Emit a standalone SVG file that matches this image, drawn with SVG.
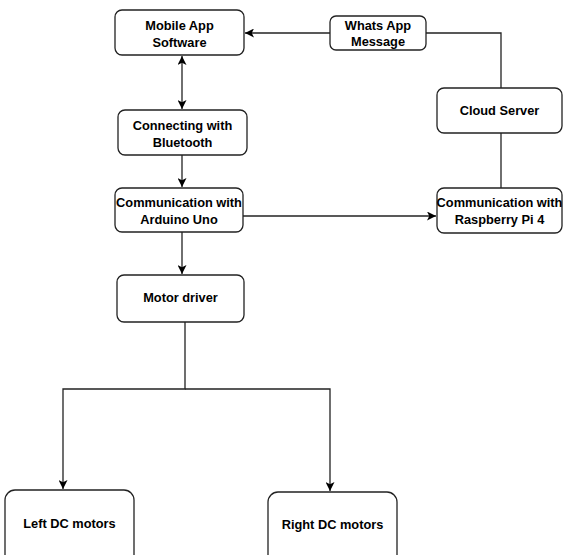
<svg xmlns="http://www.w3.org/2000/svg" width="563" height="555" viewBox="0 0 563 555">
<defs>
<style>
.box{fill:#fff;stroke:#222;stroke-width:1.3}
.t{font-family:"Liberation Sans",Arial,sans-serif;font-weight:bold;font-size:12.8px;fill:#000;text-anchor:middle}
.c{fill:none;stroke:#222;stroke-width:1.3}
</style>
<marker id="ah" viewBox="0 0 10 10" refX="10" refY="5" markerWidth="9" markerHeight="9" markerUnits="userSpaceOnUse" orient="auto-start-reverse">
<path d="M0,0 L10,5 L0,10 L2.5,5 Z" fill="#000"/>
</marker>
</defs>
<rect width="563" height="555" fill="#fff"/>
<g id="connectors">
<path class="c" d="M330,33 H245" marker-end="url(#ah)"/>
<path class="c" d="M426,33 H501 V88"/>
<path class="c" d="M501,133 V188"/>
<path class="c" d="M182,56 V109" marker-start="url(#ah)" marker-end="url(#ah)"/>
<path class="c" d="M182,155 V187" marker-end="url(#ah)"/>
<path class="c" d="M243,216 H436" marker-end="url(#ah)"/>
<path class="c" d="M182,232 V274" marker-end="url(#ah)"/>
<path class="c" d="M185,322 V389 H63 V489" marker-end="url(#ah)"/>
<path class="c" d="M185,389 H330 V491" marker-end="url(#ah)"/>
</g>
<g id="mobile"><rect class="box" x="115" y="10" width="129" height="45" rx="7"/><text class="t" x="179.5" y="30">Mobile App</text><text class="t" x="179.5" y="47">Software</text></g>
<g id="whatsapp"><rect class="box" x="330" y="16" width="96" height="34" rx="6"/><text class="t" x="378" y="30">Whats App</text><text class="t" x="378" y="46">Message</text></g>
<g id="cloud"><rect class="box" x="437" y="88" width="125" height="45" rx="7"/><text class="t" x="499.5" y="115">Cloud Server</text></g>
<g id="bluetooth"><rect class="box" x="118" y="110" width="129" height="45" rx="7"/><text class="t" x="182.5" y="130">Connecting with</text><text class="t" x="182.5" y="147">Bluetooth</text></g>
<g id="arduino"><rect class="box" x="115" y="188" width="128" height="44" rx="7"/><text class="t" x="179" y="207">Communication with</text><text class="t" x="179" y="224">Arduino Uno</text></g>
<g id="raspberry"><rect class="box" x="437" y="188" width="125" height="45" rx="7"/><text class="t" x="499.5" y="207">Communication with</text><text class="t" x="499.5" y="224">Raspberry Pi 4</text></g>
<g id="motordriver"><rect class="box" x="117" y="275" width="127" height="47" rx="7"/><text class="t" x="180.5" y="302">Motor driver</text></g>
<g id="leftdc"><rect class="box" x="5" y="490" width="129" height="75" rx="10"/><text class="t" x="69.5" y="528">Left DC motors</text></g>
<g id="rightdc"><rect class="box" x="268" y="492" width="129" height="75" rx="10"/><text class="t" x="332.5" y="529">Right DC motors</text></g>
</svg>
